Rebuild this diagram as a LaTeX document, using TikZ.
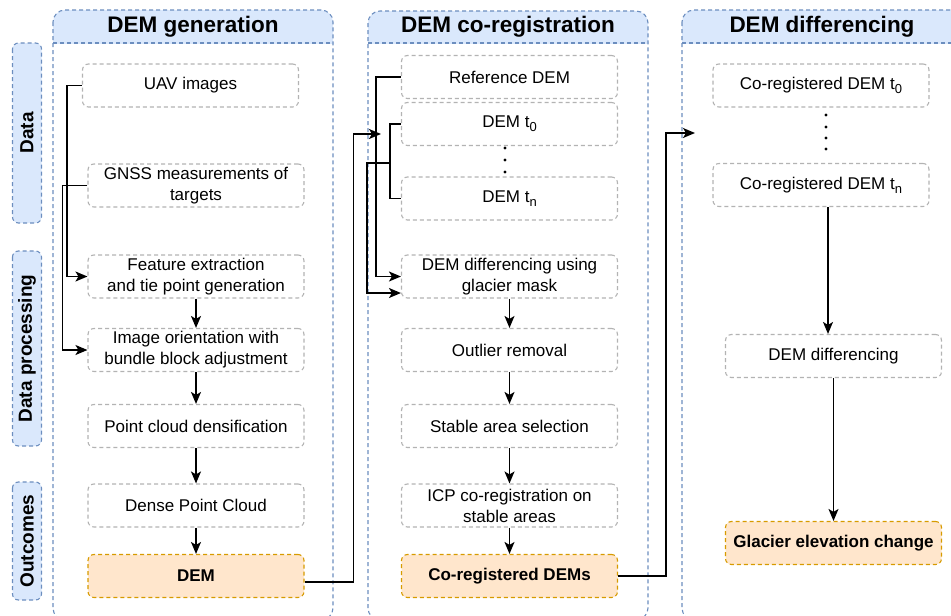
\documentclass[tikz,border=0pt]{standalone}
\usepackage{fontspec}
\setmainfont{Liberation Sans}
\usetikzlibrary{arrows.meta,calc,positioning}
\definecolor{laneblue}{HTML}{DAE8FC}
\definecolor{laneedge}{HTML}{6C8EBF}
\definecolor{outfill}{HTML}{FFE6CC}
\definecolor{outedge}{HTML}{D79B00}
\definecolor{boxedge}{HTML}{B3B3B3}
\newcommand{\lowidx}[1]{\raisebox{-4pt}{\fontsize{13}{13}\selectfont #1}}

\begin{document}
\begin{tikzpicture}[x=1pt,y=-1pt,>={Stealth[length=12pt,width=10pt,inset=3pt]},
  font=\fontsize{17}{21}\selectfont,
  proc/.style={draw=boxedge,line width=1.1pt,dash pattern=on 4pt off 3pt,rounded corners=6pt,
    fill=white,minimum width=216pt,minimum height=43pt,align=center,inner sep=2pt},
  outc/.style={proc,draw=outedge,fill=outfill,font=\fontsize{17}{21}\selectfont\bfseries},
  side/.style={draw=laneedge,fill=laneblue,line width=1.1pt,dash pattern=on 4pt off 3pt,
    rounded corners=6pt,minimum height=29pt,inner sep=0pt,font=\fontsize{19}{23}\selectfont\bfseries},
  lane/.style={draw=laneedge,line width=1.1pt,dash pattern=on 4pt off 3pt},
  lanetitle/.style={font=\fontsize{22.5}{27}\selectfont\bfseries},
  flow/.style={->,line width=1.5pt}]
  \clip (0,0) rectangle (951,616);
  % lane: DEM generation
  \begin{scope}
    \clip (53,10) rectangle (333,43);
    \fill[laneblue,rounded corners=12pt] (53,10) rectangle (333,620);
  \end{scope}
  \draw[lane,rounded corners=12pt] (53,10) rectangle (333,620);
  \draw[lane] (53,43) -- (333,43);
  \node[lanetitle] (t1) at (193,26.5) {DEM generation};
  % lane: DEM co-registration
  \begin{scope}
    \clip (368,11) rectangle (648,43);
    \fill[laneblue,rounded corners=12pt] (368,11) rectangle (648,620);
  \end{scope}
  \draw[lane,rounded corners=12pt] (368,11) rectangle (648,620);
  \draw[lane] (368,43) -- (648,43);
  \node[lanetitle] (t2) at (508,27) {DEM co-registration};
  % lane: DEM differencing
  \begin{scope}
    \clip (682,10) rectangle (962,43);
    \fill[laneblue,rounded corners=12pt] (682,10) rectangle (962,620);
  \end{scope}
  \draw[lane,rounded corners=12pt] (682,10) rectangle (962,620);
  \draw[lane] (682,43) -- (962,43);
  \node[lanetitle] (t3) at (822,26.5) {DEM differencing};

  % row labels
  \node[side,minimum width=180pt,rotate=90] (lbdata) at (27,133) {Data};
  \node[side,minimum width=195pt,rotate=90] (lbproc) at (27,348.5) {Data processing};
  \node[side,minimum width=118pt,rotate=90] (lbout) at (27,541) {Outcomes};

  % DEM generation
  \node[proc] (uav) at (190.5,85.5) {UAV images};
  \node[proc] (gnss) at (196,185.5) {GNSS measurements of\\targets};
  \node[proc] (feat) at (196,276.5) {Feature extraction\\and tie point generation};
  \node[proc] (orient) at (196,350) {Image orientation with\\bundle block adjustment};
  \node[proc] (dense) at (196,426) {Point cloud densification};
  \node[proc] (cloud) at (196,505.5) {Dense Point Cloud};
  \node[outc] (dem) at (196,576) {DEM};
  \draw[flow] (uav.west) -- ++(-15,0) |- (feat.west);
  \draw[flow] (gnss.west) -- ++(-25,0) |- (orient.west);
  \draw[flow] (feat) -- (orient);
  \draw[flow] (orient) -- (dense);
  \draw[flow] (dense) -- (cloud);
  \draw[flow] (cloud) -- (dem);

  % DEM co-registration
  \node[proc] (ref) at (509.5,77) {Reference DEM};
  \node[proc] (dem0) at (509.5,124) {DEM t\lowidx{0}};
  \node[proc] (demn) at (509.5,198.5) {DEM t\lowidx{n}};
  \foreach \y in {148,160,172} \fill (505,\y) circle (1.6pt);
  \node[proc] (mask) at (509.5,276.5) {DEM differencing using\\glacier mask};
  \node[proc] (outl) at (509.5,350) {Outlier removal};
  \node[proc] (stab) at (509.5,426) {Stable area selection};
  \node[proc] (icp) at (509.5,505.5) {ICP co-registration on\\stable areas};
  \node[outc] (coreg) at (509.5,576) {Co-registered DEMs};
  \coordinate (in2) at (381,134);
  \coordinate (join) at ($(dem0.west)+(-11,39)$);
  \draw[flow] ([yshift=-6pt]dem.east) -- ++(49,0) |- (in2);
  \draw[flow] (ref.west) -- ++(-25,0) |- (mask.west);
  \draw[line width=1.5pt] (dem0.west) -- ++(-11,0) |- (demn.west);
  \draw[flow] (join) -- ++(-23,0) |- ([yshift=-16.5pt]mask.west);
  \draw[flow] (mask) -- (outl);
  \draw[flow] (outl) -- (stab);
  \draw[flow] (stab) -- (icp);
  \draw[flow] (icp) -- (coreg);

  % DEM differencing
  \node[proc] (c0) at (821,85.5) {Co-registered DEM t\lowidx{0}};
  \foreach \y in {115,127,138,149} \fill (826,\y) circle (1.6pt);
  \node[proc] (cn) at (821,185) {Co-registered DEM t\lowidx{n}};
  \node[proc] (diff) at (833.5,356) {DEM differencing};
  \node[outc] (glac) at (833.5,543) {Glacier elevation change};
  \coordinate (in3) at (695,133);
  \draw[flow] (coreg.east) -- ++(48,0) |- (in3);
  \draw[flow] ([xshift=7pt]cn.south) -- ([xshift=7pt]cn.south |- diff.north);
  \draw[flow] (diff) -- (glac);
\end{tikzpicture}
\end{document}
